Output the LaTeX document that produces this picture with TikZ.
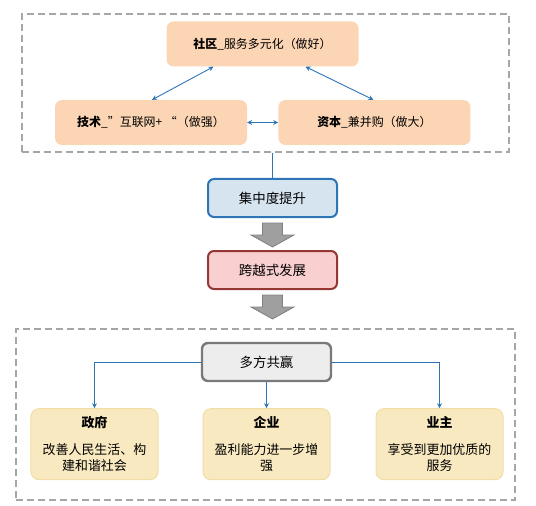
\documentclass[tikz,border=0pt]{standalone}
\usepackage{fontspec}
\setmainfont{Noto Sans CJK SC}
\usepackage{tikz}
\usetikzlibrary{positioning, arrows.meta, calc}
\definecolor{peach}{HTML}{FCD5B5}
\definecolor{linkblue}{HTML}{2E75B6}
\definecolor{paleblue}{HTML}{D6E4F0}
\definecolor{palered}{HTML}{F9CFCF}
\definecolor{darkred}{HTML}{953735}
\definecolor{palegray}{HTML}{EDEDED}
\definecolor{paleyellow}{HTML}{F8E9C0}
\definecolor{lineyellow}{HTML}{F2DEA4}

\begin{document}
\begin{tikzpicture}[x=1bp, y=-1bp, >={Stealth[length=5bp,width=5bp]}, every node/.style={font=\fontsize{13pt}{16pt}\selectfont}, every text node part/.style={align=center}]
        \useasboundingbox (0,0) rectangle (536,506);
        \tikzset{
            topbox/.style={fill=peach, rounded corners=7bp, minimum width=192bp, minimum height=45bp, font=\fontsize{12pt}{15pt}\selectfont},
            midbox/.style={rounded corners=6bp, line width=2bp, minimum width=129bp, minimum height=38bp, font=\fontsize{13.5pt}{16pt}\selectfont},
            endbox/.style={fill=paleyellow, draw=lineyellow, line width=1bp, rounded corners=8bp, minimum width=127bp, minimum height=71bp},
            frame/.style={draw=gray!70, dashed, dash pattern=on 7bp off 4bp, line width=1.8bp},
            link/.style={draw=linkblue, line width=0.9bp},
            bigarrow/.style={fill=gray!75, draw=gray, line width=0.8bp}
        }
        % Frames
        \node (TopFrame) [frame, minimum width=487bp, minimum height=138bp] at (265.5,83) {};
        \node (BottomFrame) [frame, minimum width=499bp, minimum height=171bp] at (265.5,414.5) {};

        % Top row
        \node (Shequ) [topbox] at (262.5,44) {\textbf{社区}\_服务多元化（做好）};
        \node (Jishu) [topbox] at (151,122.5) {\textbf{技术}\_”互联网+ “（做强）};
        \node (Ziben) [topbox, right=31bp of Jishu] {\textbf{资本}\_兼并购（做大）};

        \draw[link, <->] ([xshift=-49bp]Shequ.south) -- ([xshift=1bp]Jishu.north);
        \draw[link, <->] ([xshift=43bp]Shequ.south) -- ([xshift=-1bp]Ziben.north);
        \draw[link, <->] (Jishu.east) -- (Ziben.west);

        % Middle chain
        \node (Jizhong) [midbox, fill=paleblue, draw=linkblue] at (272.5,198) {集中度提升};
        \node (Kuayue) [midbox, fill=palered, draw=darkred, below=32bp of Jizhong] {跨越式发展};
        \draw[link] (TopFrame.south -| Jizhong.north) -- (Jizhong.north);

        \draw[bigarrow] ($(Jizhong.south)+(-10,5)$) -- ++(20,0) -- ++(0,12) -- ++(11.5,0) -- ++(-21.5,12) -- ++(-21.5,-12) -- ++(11.5,0) -- cycle;
        \draw[bigarrow] ($(Kuayue.south)+(-10,5)$) -- ++(20,0) -- ++(0,12) -- ++(11.5,0) -- ++(-21.5,12) -- ++(-21.5,-12) -- ++(11.5,0) -- cycle;

        % Bottom part
        \node (Duofang) [midbox, fill=palegray, draw=gray!95!black, line width=2.4bp] at (266.5,362) {多方共赢};
        \node (Qiye) [endbox, below=26bp of Duofang] {\textbf{企业}\\[11bp]盈利能力进一步增\\强};
        \node (Zhengfu) [endbox, left=44bp of Qiye] {\textbf{政府}\\[11bp]改善人民生活、构\\建和谐社会};
        \node (Yezhu) [endbox, right=45bp of Qiye] {\textbf{业主}\\[11bp]享受到更加优质的\\服务};

        \draw[link, ->] (Duofang.west) -| (Zhengfu.north);
        \draw[link, ->] (Duofang.south) -- (Qiye.north);
        \draw[link, ->] (Duofang.east) -| (Yezhu.north);
    \end{tikzpicture}
\end{document}
